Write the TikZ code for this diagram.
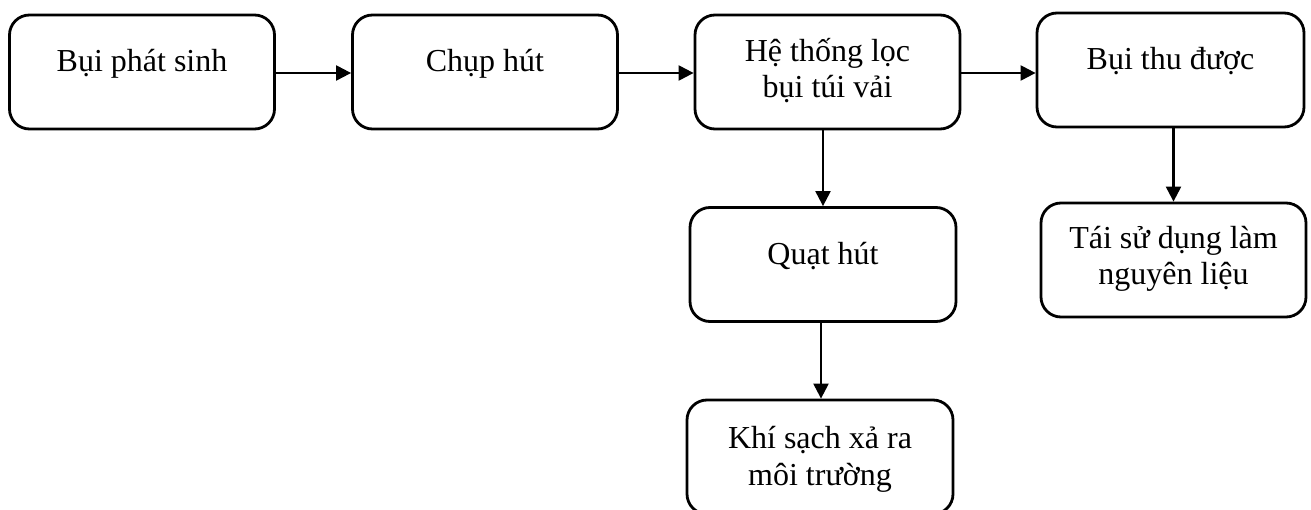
\documentclass[tikz,border=0pt]{standalone}
\usepackage{fontspec}
\setmainfont{Liberation Serif}
\usetikzlibrary{arrows.meta}
\begin{document}
\begin{tikzpicture}[x=1pt,y=-1pt,
  box/.style={draw,line width=2.8pt,rounded corners=20pt,minimum width=265pt,minimum height=114pt,inner sep=0pt},
  lbl/.style={anchor=base,align=center,inner sep=0pt,font=\fontsize{32}{36.5}\selectfont},
  arr/.style={line width=2.2pt,-{Triangle[length=15pt,width=15pt]}}]
\useasboundingbox (0,0) rectangle (1311,510);
\node[box] (b1) at (142,72) {};
\node[box] (b2) at (485,72) {};
\node[box] (b3) at (827.5,72) {};
\node[box,minimum width=267pt] (b4) at (1170.5,70) {};
\node[box,minimum width=266pt] (b5) at (823,264.5) {};
\node[box] (b6) at (1173.5,260) {};
\node[box,minimum width=266pt] (b7) at (820,457) {};
\node[lbl] (t1) at (b1.center) {Bụi phát sinh};
\node[lbl] (t2) at (b2.center) {Chụp hút};
\node[lbl] (t3) at ([yshift=-26pt]b3.center) {Hệ thống lọc\\bụi túi vải};
\node[lbl] (t4) at (b4.center) {Bụi thu được};
\node[lbl] (t5) at (b5.center) {Quạt hút};
\node[lbl] (t6) at ([yshift=-25pt]b6.center) {Tái sử dụng làm\\nguyên liệu};
\node[lbl] (t7) at ([yshift=-28pt]b7.center) {Khí sạch xả ra\\môi trường};
\draw[arr] ([yshift=-1pt]b1.east) -- ([yshift=-1pt]b2.west);
\draw[arr] ([yshift=-1pt]b2.east) -- ([yshift=-1pt]b3.west);
\draw[arr] ([yshift=-1pt]b3.east) -- ([yshift=-1pt]b3.east -| b4.west);
\draw[arr] (b3.south -| b5.north) -- (b5.north);
\draw[arr] (b4.south -| b6.north) -- (b6.north);
\draw[arr] ([xshift=-2pt]b5.south) -- ([xshift=-2pt]b5.south |- b7.north);
\end{tikzpicture}
\end{document}
